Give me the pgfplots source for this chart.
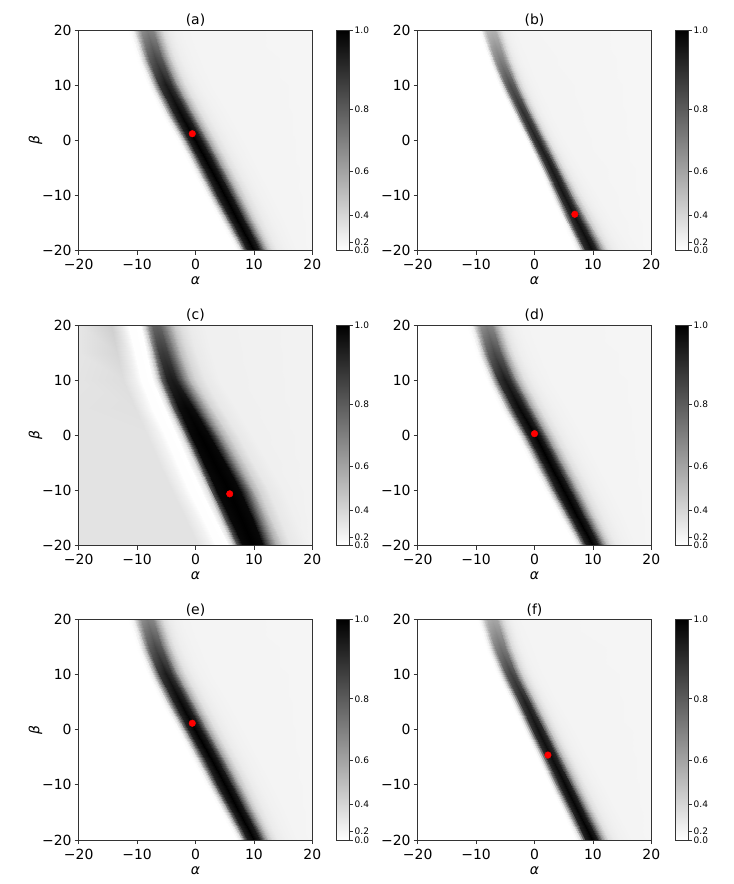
\documentclass[border=0pt]{standalone}
\usepackage{fontspec}
\setmainfont{DejaVu Sans}
\usepackage{pgfplots}
\usepackage{pgfplotstable}
\pgfplotsset{compat=1.18}

% panel (a), also used for (d) and (e): alpha beta darkness
\pgfplotstableread{
a b d
-20 -20 0
6.88 -20 0
7.35 -20 0.02
7.74 -20 0.1
8.13 -20 0.3
8.52 -20 0.6
8.99 -20 0.88
10 -20 1
10.94 -20 0.9
11.48 -20 0.65
12.03 -20 0.38
12.57 -20 0.22
13.28 -20 0.12
14.21 -20 0.075
15.46 -20 0.055
17.41 -20 0.045
20 -20 0.04
-20 -15 0
4.22 -15 0
4.71 -15 0.02
5.12 -15 0.1
5.53 -15 0.3
5.94 -15 0.6
6.43 -15 0.88
7.5 -15 1
8.48 -15 0.9
9.06 -15 0.65
9.63 -15 0.38
10.21 -15 0.22
10.94 -15 0.12
11.93 -15 0.075
13.24 -15 0.055
15.29 -15 0.045
20 -15 0.04
-20 -10 0
1.6 -10 0
2.11 -10 0.02
2.53 -10 0.1
2.96 -10 0.3
3.38 -10 0.6
3.89 -10 0.88
5 -10 1
6.02 -10 0.9
6.62 -10 0.65
7.21 -10 0.38
7.81 -10 0.22
8.57 -10 0.12
9.59 -10 0.075
10.95 -10 0.055
13.08 -10 0.045
20 -10 0.04
-20 -5 0
-0.9 -5 0
-0.39 -5 0.02
0.03 -5 0.1
0.46 -5 0.3
0.88 -5 0.6
1.39 -5 0.88
2.5 -5 1
3.52 -5 0.9
4.12 -5 0.65
4.71 -5 0.38
5.31 -5 0.22
6.07 -5 0.12
7.09 -5 0.075
8.45 -5 0.055
10.58 -5 0.045
20 -5 0.04
-20 0 0
-3.4 0 0
-2.89 0 0.02
-2.47 0 0.1
-2.04 0 0.3
-1.62 0 0.6
-1.11 0 0.88
0 0 1
1.02 0 0.9
1.62 0 0.65
2.21 0 0.38
2.81 0 0.22
3.57 0 0.12
4.59 0 0.075
5.95 0 0.055
8.08 0 0.045
20 0 0.04
-20 5 0
-6.0 5 0
-5.49 5 0.019
-5.07 5 0.097
-4.64 5 0.291
-4.22 5 0.582
-3.71 5 0.854
-2.6 5 0.97
-1.58 5 0.874
-0.98 5 0.632
-0.39 5 0.37
0.21 5 0.215
0.97 5 0.118
1.99 5 0.074
3.35 5 0.055
5.48 5 0.045
20 5 0.04
-20 10 0
-8.38 10 0
-7.89 10 0.018
-7.48 10 0.09
-7.07 10 0.27
-6.66 10 0.54
-6.17 10 0.792
-5.1 10 0.9
-4.12 10 0.814
-3.54 10 0.589
-2.97 10 0.346
-2.39 10 0.202
-1.66 10 0.112
-0.67 10 0.072
0.64 10 0.054
2.69 10 0.045
20 10 0.04
-20 15 0
-10.18 15 0
-9.69 15 0.014
-9.28 15 0.072
-8.87 15 0.216
-8.46 15 0.432
-7.97 15 0.634
-6.9 15 0.72
-5.92 15 0.659
-5.34 15 0.479
-4.77 15 0.285
-4.19 15 0.17
-3.46 15 0.098
-2.47 15 0.065
-1.16 15 0.051
0.89 15 0.044
20 15 0.04
-20 20 0
-11.7 20 0
-11.19 20 0.01
-10.77 20 0.05
-10.34 20 0.15
-9.92 20 0.3
-9.41 20 0.44
-8.3 20 0.5
-7.28 20 0.47
-6.68 20 0.345
-6.09 20 0.21
-5.49 20 0.13
-4.73 20 0.08
-3.71 20 0.058
-2.35 20 0.048
-0.22 20 0.043
20 20 0.04
}\ta

% panel (b)
\pgfplotstableread{
a b d
-20 -20 0
6.92 -20 0
7.35 -20 0.019
7.71 -20 0.095
8.07 -20 0.285
8.43 -20 0.57
8.86 -20 0.836
9.8 -20 0.95
10.66 -20 0.857
11.17 -20 0.62
11.67 -20 0.363
12.18 -20 0.211
12.82 -20 0.116
13.69 -20 0.073
14.84 -20 0.054
16.64 -20 0.045
20 -20 0.035
-20 -15 0
4.76 -15 0
5.16 -15 0.019
5.49 -15 0.094
5.82 -15 0.282
6.15 -15 0.564
6.54 -15 0.827
7.4 -15 0.94
8.19 -15 0.848
8.65 -15 0.613
9.12 -15 0.36
9.58 -15 0.209
10.17 -15 0.115
10.96 -15 0.073
12.02 -15 0.054
13.67 -15 0.045
20 -15 0.035
-20 -10 0
2.7 -10 0
3.06 -10 0.018
3.36 -10 0.092
3.66 -10 0.276
3.96 -10 0.552
4.32 -10 0.81
5.1 -10 0.92
5.82 -10 0.831
6.24 -10 0.601
6.66 -10 0.353
7.08 -10 0.206
7.62 -10 0.114
8.34 -10 0.072
9.3 -10 0.054
10.8 -10 0.045
20 -10 0.035
-20 -5 0
0.6 -5 0
0.93 -5 0.018
1.2 -5 0.09
1.48 -5 0.27
1.75 -5 0.54
2.08 -5 0.792
2.8 -5 0.9
3.46 -5 0.814
3.85 -5 0.589
4.23 -5 0.346
4.62 -5 0.202
5.11 -5 0.112
5.77 -5 0.072
6.65 -5 0.054
8.03 -5 0.045
20 -5 0.035
-20 0 0
-1.64 0 0
-1.33 0 0.017
-1.08 0 0.087
-0.82 0 0.261
-0.57 0 0.522
-0.26 0 0.766
0.4 0 0.87
1.01 0 0.788
1.37 0 0.571
1.73 0 0.336
2.08 0 0.197
2.54 0 0.11
3.15 0 0.07
3.97 0 0.053
5.25 0 0.044
20 0 0.035
-20 5 0
-3.94 5 0
-3.63 5 0.016
-3.38 5 0.082
-3.12 5 0.246
-2.87 5 0.492
-2.56 5 0.722
-1.9 5 0.82
-1.29 5 0.745
-0.93 5 0.54
-0.57 5 0.319
-0.22 5 0.188
0.24 5 0.106
0.85 5 0.069
1.67 5 0.052
2.95 5 0.044
20 5 0.035
-20 10 0
-6.32 10 0
-6.0 10 0.014
-5.74 10 0.07
-5.47 10 0.21
-5.21 10 0.42
-4.89 10 0.616
-4.2 10 0.7
-3.56 10 0.642
-3.19 10 0.467
-2.82 10 0.278
-2.45 10 0.166
-1.97 10 0.096
-1.34 10 0.065
-0.49 10 0.051
0.84 10 0.044
20 10 0.035
-20 15 0
-8.2 15 0
-7.87 15 0.01
-7.6 15 0.05
-7.32 15 0.15
-7.05 15 0.3
-6.72 15 0.44
-6.0 15 0.5
-5.34 15 0.47
-4.95 15 0.345
-4.57 15 0.21
-4.18 15 0.13
-3.69 15 0.08
-3.03 15 0.058
-2.15 15 0.048
-0.77 15 0.043
20 15 0.035
-20 20 0
-9.9 20 0
-9.54 20 0.006
-9.24 20 0.03
-8.94 20 0.09
-8.64 20 0.18
-8.28 20 0.264
-7.5 20 0.3
-6.78 20 0.298
-6.36 20 0.223
-5.94 20 0.142
-5.52 20 0.094
-4.98 20 0.064
-4.26 20 0.051
-3.3 20 0.045
-1.8 20 0.042
20 20 0.035
}\tb

% panel (c)
\pgfplotstableread{
a b d
-20 -20 0.11
0.5 -20 0.11
2.5 -20 0.05
3.5 -20 0.005
5.5 -20 0
6.3 -20 0.1
6.8 -20 0.3
7.3 -20 0.7
8.1 -20 0.97
9.8 -20 1
11.5 -20 0.97
12.3 -20 0.75
13.1 -20 0.5
13.9 -20 0.3
14.9 -20 0.17
16.4 -20 0.09
18.9 -20 0.06
20 -20 0.05
-20 -15 0.11
-1.8 -15 0.11
0.2 -15 0.05
1.2 -15 0.005
3.2 -15 0
4.1 -15 0.1
4.6 -15 0.3
5.1 -15 0.7
5.9 -15 0.97
7.75 -15 1
9.6 -15 0.97
10.4 -15 0.75
11.2 -15 0.5
12.0 -15 0.3
13.0 -15 0.17
14.5 -15 0.09
17.0 -15 0.06
20 -15 0.05
-20 -10 0.11
-4.1 -10 0.11
-2.1 -10 0.05
-1.1 -10 0.005
0.9 -10 0
1.9 -10 0.1
2.4 -10 0.3
2.9 -10 0.7
3.7 -10 0.97
5.7 -10 1
7.7 -10 0.97
8.5 -10 0.75
9.3 -10 0.5
10.1 -10 0.3
11.1 -10 0.17
12.6 -10 0.09
15.1 -10 0.06
20 -10 0.05
-20 -5 0.11
-6.2 -5 0.11
-4.2 -5 0.05
-3.2 -5 0.005
-1.2 -5 0
-0.3 -5 0.1
0.2 -5 0.3
0.7 -5 0.7
1.5 -5 0.97
3.25 -5 1
5.0 -5 0.97
5.8 -5 0.75
6.6 -5 0.5
7.4 -5 0.3
8.4 -5 0.17
9.9 -5 0.09
12.4 -5 0.06
20 -5 0.05
-20 0 0.11
-8.3 0 0.11
-6.3 0 0.05
-5.3 0 0.005
-3.3 0 0
-2.5 0 0.1
-2.0 0 0.3
-1.5 0 0.7
-0.7 0 0.97
0.8 0 1
2.3 0 0.97
3.1 0 0.75
3.9 0 0.5
4.7 0 0.3
5.7 0 0.17
7.2 0 0.09
9.7 0 0.06
20 0 0.05
-20 5 0.11
-10.4 5 0.12
-8.4 5 0.05
-7.4 5 0.005
-5.4 5 0
-4.7 5 0.1
-4.2 5 0.29
-3.7 5 0.69
-2.9 5 0.95
-1.7 5 0.98
-0.5 5 0.95
0.3 5 0.74
1.1 5 0.49
1.9 5 0.3
2.9 5 0.17
4.4 5 0.09
6.9 5 0.06
20 5 0.05
-20 10 0.105
-12.4 10 0.13
-10.4 10 0.06
-9.4 10 0.005
-7.4 10 0
-6.7 10 0.09
-6.2 10 0.27
-5.7 10 0.63
-4.9 10 0.87
-4.1 10 0.9
-3.3 10 0.87
-2.5 10 0.68
-1.7 10 0.45
-0.9 10 0.28
0.1 10 0.16
1.6 10 0.09
4.1 10 0.06
20 10 0.05
-20 15 0.1
-13.4 15 0.16
-11.4 15 0.07
-10.4 15 0.005
-8.4 15 0
-8.0 15 0.08
-7.5 15 0.23
-7.0 15 0.55
-6.2 15 0.76
-5.5 15 0.78
-4.8 15 0.76
-4.0 15 0.59
-3.2 15 0.4
-2.4 15 0.25
-1.4 15 0.15
0.1 15 0.085
2.6 15 0.06
20 15 0.05
-20 20 0.1
-14.5 20 0.19
-12.5 20 0.08
-11.5 20 0.005
-9.5 20 0
-9.2 20 0.07
-8.7 20 0.2
-8.2 20 0.43
-7.4 20 0.6
-6.7 20 0.62
-6.0 20 0.6
-5.2 20 0.47
-4.4 20 0.32
-3.6 20 0.21
-2.6 20 0.13
-1.1 20 0.08
1.4 20 0.06
20 20 0.05
}\tc

% panel (f)
\pgfplotstableread{
a b d
-20 -20 0
6.92 -20 0
7.35 -20 0.02
7.71 -20 0.1
8.07 -20 0.3
8.43 -20 0.6
8.86 -20 0.88
9.8 -20 1
10.66 -20 0.9
11.17 -20 0.65
11.67 -20 0.38
12.18 -20 0.22
12.82 -20 0.12
13.69 -20 0.075
14.84 -20 0.055
16.64 -20 0.045
20 -20 0.04
-20 -15 0
4.7 -15 0
5.12 -15 0.02
5.47 -15 0.098
5.82 -15 0.294
6.17 -15 0.588
6.59 -15 0.862
7.5 -15 0.98
8.34 -15 0.883
8.83 -15 0.638
9.32 -15 0.373
9.81 -15 0.216
10.44 -15 0.118
11.28 -15 0.074
12.4 -15 0.055
14.15 -15 0.045
20 -15 0.04
-20 -10 0
2.48 -10 0
2.89 -10 0.019
3.23 -10 0.097
3.57 -10 0.291
3.91 -10 0.582
4.32 -10 0.854
5.2 -10 0.97
6.02 -10 0.874
6.49 -10 0.632
6.97 -10 0.37
7.44 -10 0.215
8.06 -10 0.118
8.87 -10 0.074
9.96 -10 0.055
11.66 -10 0.045
20 -10 0.04
-20 -5 0
0.26 -5 0
0.66 -5 0.019
0.99 -5 0.095
1.32 -5 0.285
1.65 -5 0.57
2.04 -5 0.836
2.9 -5 0.95
3.69 -5 0.857
4.15 -5 0.62
4.62 -5 0.363
5.08 -5 0.211
5.67 -5 0.116
6.46 -5 0.073
7.52 -5 0.054
9.17 -5 0.045
20 -5 0.04
-20 0 0
-1.96 0 0
-1.58 0 0.019
-1.26 0 0.093
-0.94 0 0.279
-0.62 0 0.558
-0.23 0 0.818
0.6 0 0.93
1.37 0 0.84
1.82 0 0.607
2.26 0 0.356
2.71 0 0.207
3.29 0 0.114
4.06 0 0.073
5.08 0 0.054
6.68 0 0.045
20 0 0.04
-20 5 0
-4.14 5 0
-3.77 5 0.018
-3.47 5 0.088
-3.16 5 0.264
-2.86 5 0.528
-2.49 5 0.774
-1.7 5 0.88
-0.97 5 0.797
-0.54 5 0.577
-0.11 5 0.339
0.31 5 0.198
0.86 5 0.11
1.59 5 0.071
2.57 5 0.053
4.1 5 0.044
20 5 0.04
-20 10 0
-6.54 10 0
-6.17 10 0.015
-5.87 10 0.075
-5.56 10 0.225
-5.26 10 0.45
-4.89 10 0.66
-4.1 10 0.75
-3.37 10 0.685
-2.94 10 0.498
-2.51 10 0.295
-2.09 10 0.175
-1.54 10 0.1
-0.81 10 0.066
0.17 10 0.051
1.7 10 0.044
20 10 0.04
-20 15 0
-8.46 15 0
-8.08 15 0.011
-7.76 15 0.055
-7.44 15 0.165
-7.12 15 0.33
-6.73 15 0.484
-5.9 15 0.55
-5.13 15 0.513
-4.68 15 0.376
-4.24 15 0.227
-3.79 15 0.139
-3.21 15 0.084
-2.44 15 0.059
-1.42 15 0.048
0.18 15 0.043
20 15 0.04
-20 20 0
-10.02 20 0
-9.61 20 0.007
-9.27 20 0.035
-8.93 20 0.105
-8.59 20 0.21
-8.18 20 0.308
-7.3 20 0.35
-6.48 20 0.341
-6.01 20 0.254
-5.53 20 0.159
-5.06 20 0.103
-4.44 20 0.068
-3.63 20 0.052
-2.54 20 0.045
-0.84 20 0.042
20 20 0.04
}\tf

\newcommand{\tickfont}{\fontsize{14}{16}\selectfont}
\newcommand{\cbfont}{\fontsize{9}{10}\selectfont}

\pgfplotsset{
  hm/.style={
    scale only axis, width=233.6bp, height=220.7bp,
    xmin=-20, xmax=20, ymin=-20, ymax=20, enlargelimits=false,
    axis on top,
    xtick={-20,-10,0,10,20}, ytick={-20,-10,0,10,20},
    xticklabels={−20,−10,0,10,20}, yticklabels={−20,−10,0,10,20},
    tick align=outside, tick pos=left,
    major tick length=4bp,
    tick style={black!80, line width=0.7bp},
    axis line style={black!80, line width=0.7bp},
    xticklabel style={font=\tickfont, anchor=north, inner sep=0pt, yshift=-4.6bp},
    yticklabel style={font=\tickfont, anchor=east, inner sep=0pt, xshift=-3bp},
    colormap={grayr}{gray(0cm)=(1); gray(1cm)=(0)},
    point meta min=0, point meta max=1,
    title style={font=\tickfont, at={(0.5,1)}, anchor=south, inner sep=0pt, yshift=-3bp},
    xlabel={\itshape α},
    xlabel style={font=\tickfont, at={(0.5,0)}, anchor=north, inner sep=0pt, yshift=-26bp},
    colorbar,
    colorbar style={
      width=13.5bp,
      at={(parent axis.north east)}, anchor=north west, xshift=15.2bp,
      title={}, xlabel={}, ylabel={},
      ytick={0,0.04,0.16,0.36,0.64,1},
      yticklabels={0.0,0.2,0.4,0.6,0.8,1.0},
      ytick pos=right, yticklabel pos=right,
      tick align=outside, major tick length=3bp,
      tick style={black!80, line width=0.6bp},
      axis line style={black!80, line width=0.6bp},
      yticklabel style={font=\cbfont, anchor=west, inner sep=0pt, xshift=2bp},
    },
  },
  yl/.style={
    ylabel={\itshape β},
    ylabel style={font=\tickfont, at={(0,0.5)}, anchor=center, inner sep=0pt, yshift=43.2bp},
  },
  hmplot/.style={surf, shader=interp, mesh/rows=9, point meta=explicit},
  dot/.style={only marks, mark=*, mark size=3.3bp, draw=red, fill=red},
}

\begin{document}
\begin{tikzpicture}
\path[use as bounding box] (0,0) rectangle (734bp,884bp);

\begin{axis}[hm, yl, at={(78.7bp,633.3bp)}, anchor=south west, title={(a)}]
\addplot[hmplot, mesh/cols=17] table[x=a, y=b, meta=d] {\ta};
\addplot[dot] coordinates {(-0.55,1.2)};
\end{axis}

\begin{axis}[hm, at={(417.7bp,633.3bp)}, anchor=south west, title={(b)}]
\addplot[hmplot, mesh/cols=17] table[x=a, y=b, meta=d] {\tb};
\addplot[dot] coordinates {(6.9,-13.4)};
\end{axis}

\begin{axis}[hm, yl, at={(78.7bp,338.3bp)}, anchor=south west, title={(c)}]
\addplot[hmplot, mesh/cols=18] table[x=a, y=b, meta=d] {\tc};
\addplot[dot] coordinates {(5.86,-10.6)};
\end{axis}

\begin{axis}[hm, at={(417.7bp,338.3bp)}, anchor=south west, title={(d)}]
\addplot[hmplot, mesh/cols=17] table[x=a, y=b, meta=d] {\ta};
\addplot[dot] coordinates {(0,0.3)};
\end{axis}

\begin{axis}[hm, yl, at={(78.7bp,44bp)}, anchor=south west, title={(e)}]
\addplot[hmplot, mesh/cols=17] table[x=a, y=b, meta=d] {\ta};
\addplot[dot] coordinates {(-0.55,1.16)};
\end{axis}

\begin{axis}[hm, at={(417.7bp,44bp)}, anchor=south west, title={(f)}]
\addplot[hmplot, mesh/cols=17] table[x=a, y=b, meta=d] {\tf};
\addplot[dot] coordinates {(2.3,-4.6)};
\end{axis}

\end{tikzpicture}
\end{document}
